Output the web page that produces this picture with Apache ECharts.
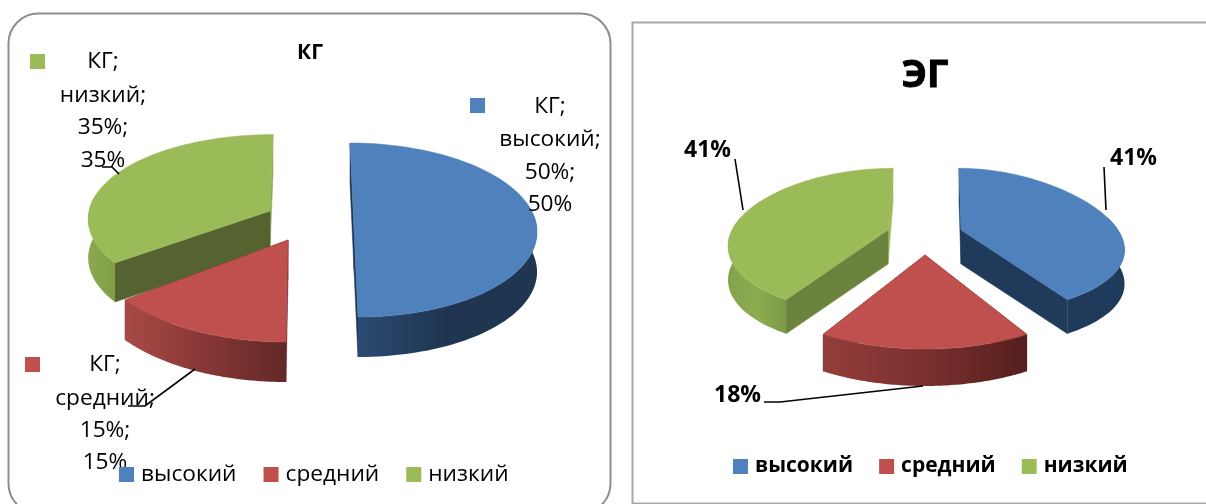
<!DOCTYPE html>
<html>
<head>
<meta charset="utf-8">
<style>html,body{margin:0;padding:0;background:#fff}#c{width:1206px;height:504px}</style>
<script src="https://cdn.jsdelivr.net/npm/echarts@6/dist/echarts.min.js"></script>
</head>
<body>
<div id="c"></div>
<script>
// ---- data ----
const categories = ['высокий', 'средний', 'низкий'];
const kgValues = [50, 15, 35];
const egValues = [41, 18, 41];
const kgTitle = 'КГ';
const egTitle = 'ЭГ';

// ---- palette ----
const topColors = ['#4f81bd', '#c0504d', '#9bbb59'];

// ---- slice layout (projection of each exploded wedge) ----
const kgLayout = [
  {cx:354, cy:230, rx:183, ry:87,  kx:0,   ky:0,    shear:4,  depth:40, cut:'#1f3550', back:'#1f3550', side:['#2c4a72','#1f3550','#1f3550']},
  {cx:288, cy:240, rx:200, ry:102, kx:0,   ky:0,    shear:-2, depth:40, cut:'#632a29', back:'#632a29', side:['#a84a47','#863735','#622826']},
  {cx:270, cy:211, rx:181, ry:84,  kx:.08, ky:.09,  shear:-3, depth:39, cut:'#546330', back:'#8ba850', side:['#8ba850','#86a44a','#7f9d46']}
];
const egLayout = [
  {cx:961, cy:230, rx:157, ry:73,  kx:.29, ky:.155, shear:2,  depth:34, cut:'#1f3a5a', back:'#1f3a5a', side:['#1f3a5a','#1f3a5a','#1f3a5a']},
  {cx:925, cy:255, rx:190, ry:94,  kx:0,   ky:0,    shear:0,  depth:37, cut:'#5a2220', back:'#5a2220', side:['#933e3c','#7a302e','#541f1d']},
  {cx:888, cy:230, rx:156, ry:73,  kx:.2,  ky:.155, shear:-5, depth:34, cut:'#6c833e', back:'#9bbb59', side:['#84a24a','#8dab50','#7c9a45']}
];

// ---- label layout ----
const kgLabels = [
  {x:550, ys:[107,140,173,205], key:[470,98],  lines:[[550,0]]},
  {x:105, ys:[365,399,431,463], key:[25,357],  lines:[[128,406,145,406,195,369]]},
  {x:103, ys:[62,96,128,161],   key:[30,54],   lines:[[102,167,112,167,119,174]]}
];
const egLabels = [
  {x:1133.5, y:158, line:[1104,167,1106,210]},
  {x:737.5,  y:395, line:[764,402,780,402,923,386]},
  {x:707.5,  y:150, line:[735,159,743,210]}
];
const kgFont = '"Open Sans", sans-serif';
const egFont = '"Open Sans", sans-serif';

function wedge(L, a0, a1, color) {
  const proj = th => {
    const u = Math.sin(th), v = -Math.cos(th);
    return [L.cx + L.rx * u * (1 + L.kx * v) + L.shear * v, L.cy + L.ry * v * (1 + L.ky * v)];
  };
  const steps = 80, arc = [], front = [];
  for (let i = 0; i <= steps; i++) {
    const th = a0 + (a1 - a0) * i / steps, p = proj(th);
    arc.push(p);
    if (-Math.cos(th) > -0.2) front.push(p);
  }
  const down = p => [p[0], p[1] + L.depth];
  const apex = [L.cx, L.cy];
  const face = (p, c) => ({type:'polygon', shape:{points:[apex, p, down(p), down(apex)]},
    style:{fill:c, stroke:c, lineWidth:.5}});
  const isBack = p => p[1] < L.cy;
  const faces = [arc[0], arc[steps]].sort((a, b) => a[1] - b[1]);
  const children = faces.map(p => face(p, isBack(p) ? L.back : L.cut));
  children.push({type:'polygon', shape:{points: front.concat(front.slice().reverse().map(down))},
    style:{fill:{type:'linear',x:0,y:0,x2:1,y2:0,colorStops:[
      {offset:0,color:L.side[0]},{offset:.5,color:L.side[1]},{offset:1,color:L.side[2]}]},
      stroke:'rgba(255,255,255,0)'}});
  children.push({type:'polygon', shape:{points:[apex].concat(arc)}, style:{fill:color, stroke:color, lineWidth:.5}});
  return children;
}

function line(pts) {
  const points = [];
  for (let i = 0; i < pts.length; i += 2) points.push([pts[i], pts[i + 1]]);
  return {type:'polyline', z2:20, shape:{points}, style:{stroke:'#000', lineWidth:1.6, fill:null}};
}

function makeSeries(values, layout, idx, decorate) {
  const total = values.reduce((a, b) => a + b, 0);
  const before = values.slice(0, idx).reduce((a, b) => a + b, 0);
  return {
    type:'custom', name:categories[idx], coordinateSystem:'none', silent:true,
    itemStyle:{color:topColors[idx]}, z:2 + (2 - idx === 0 ? 0 : 2 - idx === 1 ? 1 : 2),
    data:[[values[idx]]],
    renderItem:(params, api) => {
      const span = api.value(0) / total * Math.PI * 2;
      const a0 = before / total * Math.PI * 2;
      return {type:'group', children: wedge(layout[idx], a0, a0 + span, topColors[idx]).concat(decorate(idx, values[idx]))};
    }
  };
}

function kgDecor(i, v) {
  const L = kgLabels[i], lines = ['КГ;', categories[i] + ';', v + '%;', v + '%'];
  const out = lines.map((t, k) => ({type:'text', z2:30, style:{text:t, x:L.x, y:L.ys[k], align:'center', verticalAlign:'middle',
    font:'22.7px ' + kgFont, fill:'#000'}}));
  out.push({type:'rect', z2:30, shape:{x:L.key[0], y:L.key[1], width:15, height:15}, style:{fill:topColors[i]}});
  if (L.lines[0].length > 2) out.push(line(L.lines[0]));
  return out;
}
function egDecor(i, v) {
  const L = egLabels[i];
  return [
    {type:'text', z2:30, style:{text:v + '%', x:L.x, y:L.y, align:'center', verticalAlign:'middle', font:'bold 23px ' + egFont, fill:'#000'}},
    line(L.line)
  ];
}

const series = [];
// back-to-front: green, red, blue
[2, 1, 0].forEach(i => series.push(makeSeries(kgValues, kgLayout, i, kgDecor)));
[2, 1, 0].forEach(i => series.push(makeSeries(egValues, egLayout, i, egDecor)));

const chart = echarts.init(document.getElementById('c'), null, {renderer:'canvas'});
chart.setOption({
  animation:false,
  backgroundColor:'#fff',
  title:[
    {text:kgTitle, left:305, top:48, textAlign:'center', textVerticalAlign:'middle',
      textStyle:{fontFamily:kgFont, fontWeight:'bold', fontSize:21, color:'#000'}},
    {text:egTitle, left:920, top:71, textAlign:'center', textVerticalAlign:'middle',
      textStyle:{fontFamily:egFont, fontWeight:'bold', fontSize:38, color:'#000', textBorderColor:'#000', textBorderWidth:1}}
  ],
  legend:[
    {data:categories, left:119, top:463, padding:0, itemWidth:15, itemHeight:15, itemGap:27, icon:'rect', selectedMode:false,
      textStyle:{fontFamily:kgFont, fontSize:22.7, color:'#000', padding:[0,0,0,2]}},
    {data:categories, left:733, top:456, padding:0, itemWidth:15, itemHeight:15, itemGap:26, icon:'rect', selectedMode:false,
      textStyle:{fontFamily:egFont, fontSize:21, fontWeight:'bold', color:'#000', padding:[0,0,0,2]}}
  ],
  graphic:[
    {type:'rect', z:0, shape:{x:8.5, y:13.5, width:602, height:500, r:30}, style:{fill:'#fff', stroke:'#8e8e8e', lineWidth:2}},
    {type:'rect', z:0, shape:{x:632.5, y:22.5, width:600, height:481}, style:{fill:'#fff', stroke:'#a8a8a8', lineWidth:2}}
  ],
  series
});
</script>
</body>
</html>
